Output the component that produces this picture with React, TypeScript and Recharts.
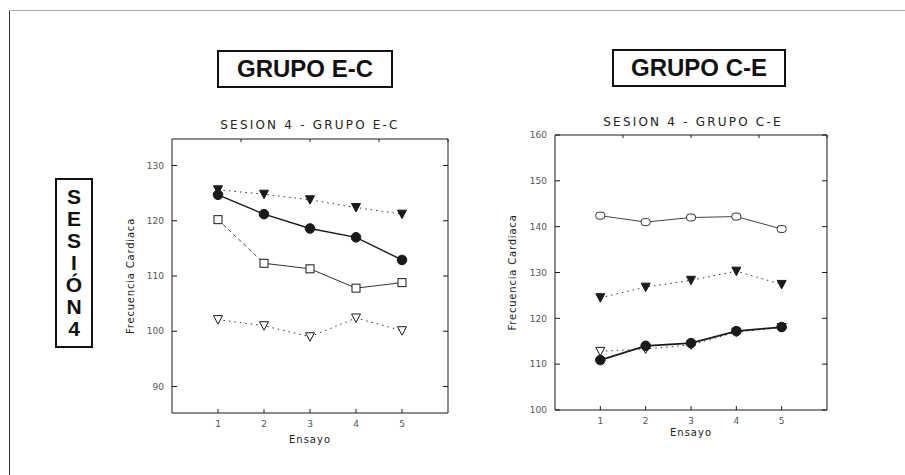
import React from 'react';
import { LineChart, Line, XAxis, YAxis } from 'recharts';

// Sesión 4: frecuencia cardiaca por ensayo
const ensayos = [1, 2, 3, 4, 5];
const ejeX = [1, 2, 3, 4, 5];

// GRUPO E-C
const ecCirculoLleno = [124.7, 121.2, 118.6, 117.0, 112.9];
const ecTrianguloLleno = [125.6, 124.8, 123.8, 122.4, 121.2];
const ecCuadradoVacio = [120.2, 112.3, 111.3, 107.8, 108.8];
const ecTrianguloVacio = [102.1, 101.0, 99.0, 102.4, 100.1];
const ecTicksY = [90, 100, 110, 120, 130];

// GRUPO C-E
const ceCirculoVacio = [142.4, 141.0, 142.0, 142.2, 139.5];
const ceTrianguloLleno = [124.5, 126.8, 128.3, 130.3, 127.4];
const ceCirculoLleno = [110.9, 114.0, 114.6, 117.2, 118.1];
const ceTrianguloVacio = [112.8, 113.3, 114.2, 117.0, 118.0];
const ceTicksY = [100, 110, 120, 130, 140, 150, 160];

const ink = '#1a1a1a';
const tickFont = { fontSize: 9, fill: '#555', fontFamily: 'DejaVu Sans' };

// the open-square series is dashed from trial 1 to 2, solid afterwards
const ecData = ensayos.map((e, i) => ({
  ensayo: e,
  a: ecCirculoLleno[i],
  b: ecTrianguloLleno[i],
  cTramo: i <= 1 ? ecCuadradoVacio[i] : null,
  c: i >= 1 ? ecCuadradoVacio[i] : null,
  cPunto: ecCuadradoVacio[i],
  d: ecTrianguloVacio[i],
}));

const ceData = ensayos.map((e, i) => ({
  ensayo: e,
  a: ceCirculoLleno[i],
  b: ceTrianguloLleno[i],
  c: ceCirculoVacio[i],
  d: ceTrianguloVacio[i],
}));

// marker shapes
function filledCircle(props: any) {
  const { cx, cy, key } = props;
  if (cx == null || cy == null) return <g key={key} />;
  return <circle key={key} cx={cx} cy={cy} r={4.8} fill={ink} stroke={ink} />;
}

function triangle(filled: boolean) {
  return (props: any) => {
    const { cx, cy, key } = props;
    if (cx == null || cy == null) return <g key={key} />;
    const d = `M${cx - 4.5},${cy - 4} L${cx + 4.5},${cy - 4} L${cx},${cy + 4.5} Z`;
    return <path key={key} d={d} fill={filled ? ink : '#fff'} stroke={ink} strokeWidth={1} />;
  };
}

function openSquare(props: any) {
  const { cx, cy, key } = props;
  if (cx == null || cy == null) return <g key={key} />;
  return <rect key={key} x={cx - 4} y={cy - 4} width={8} height={8} fill="#fff" stroke={ink} strokeWidth={1} />;
}

function openRound(props: any) {
  const { cx, cy, key } = props;
  if (cx == null || cy == null) return <g key={key} />;
  return <rect key={key} x={cx - 4.5} y={cy - 3.5} width={9} height={7} rx={3} fill="#fff" stroke="#333" strokeWidth={1} />;
}

interface PanelProps {
  data: any[];
  domain: [number, number];
  ticksY: number[];
  labelOffset: number;
  ensayoOffset: number;
  margin: { top: number; right: number; bottom: number; left: number };
  yWidth: number;
  lines: React.ReactNode;
}

function Panel({ data, domain, ticksY, labelOffset, ensayoOffset, margin, yWidth, lines }: PanelProps) {
  return (
    <LineChart width={400} height={360} data={data} margin={margin}>
      <XAxis
        xAxisId="b"
        dataKey="ensayo"
        type="number"
        domain={[0, 6]}
        ticks={ejeX}
        height={40}
        stroke={ink}
        tickSize={-4}
        tickMargin={12}
        tick={tickFont}
        label={{
          value: 'Ensayo',
          position: 'insideBottom',
          offset: ensayoOffset,
          style: { fontSize: 10, fill: '#222', fontFamily: 'DejaVu Sans', letterSpacing: 1 },
        }}
      />
      <XAxis
        xAxisId="t"
        orientation="top"
        type="number"
        domain={[0, 6]}
        ticks={ejeX}
        height={5}
        stroke={ink}
        tickSize={-3}
        tickFormatter={() => ''}
      />
      <YAxis
        yAxisId="l"
        type="number"
        domain={domain}
        ticks={ticksY}
        allowDataOverflow
        width={yWidth}
        stroke={ink}
        tickSize={-5}
        tickMargin={13}
        tick={tickFont}
        label={{
          value: 'Frecuencia Cardiaca',
          angle: -90,
          position: 'insideLeft',
          offset: labelOffset,
          style: { textAnchor: 'middle', fontSize: 10, fill: '#222', fontFamily: 'DejaVu Sans', letterSpacing: 0.8 },
        }}
      />
      <YAxis
        yAxisId="r"
        orientation="right"
        type="number"
        domain={domain}
        ticks={ticksY}
        allowDataOverflow
        width={10}
        stroke={ink}
        tickSize={-5}
        tickFormatter={() => ''}
      />
      {lines}
    </LineChart>
  );
}

const titleBox: React.CSSProperties = {
  position: 'absolute',
  border: '2px solid #111',
  fontFamily: '"Liberation Sans", Arial, sans-serif',
  fontWeight: 700,
  fontSize: 24,
  color: '#111',
  display: 'flex',
  alignItems: 'center',
  justifyContent: 'center',
  boxSizing: 'border-box',
};

const chartTitle: React.CSSProperties = {
  position: 'absolute',
  width: 300,
  textAlign: 'center',
  fontFamily: 'DejaVu Sans',
  fontSize: 12,
  letterSpacing: 2.2,
  color: '#222',
};

export default function App() {
  const sesion = ['S', 'E', 'S', 'I', 'Ó', 'N', '4'];
  return (
    <div style={{ position: 'fixed', left: 0, top: 0, width: 905, height: 475, background: '#fff', overflow: 'hidden' }}>
      {/* page frame */}
      <div style={{ position: 'absolute', left: 9, top: 10, width: 1, height: 465, background: '#333' }} />
      <div style={{ position: 'absolute', left: 9, top: 10, width: 896, height: 1, background: '#aaa' }} />

      <div style={{ ...titleBox, left: 217, top: 50, width: 176, height: 38 }}>GRUPO E-C</div>
      <div style={{ ...titleBox, left: 612, top: 49, width: 174, height: 38 }}>GRUPO C-E</div>

      <div
        style={{
          ...titleBox,
          left: 55,
          top: 178,
          width: 38,
          height: 170,
          flexDirection: 'column',
          fontSize: 21,
          lineHeight: '22px',
        }}
      >
        {sesion.map((c, i) => (
          <span key={i}>{c}</span>
        ))}
      </div>

      <div style={{ ...chartTitle, left: 160, top: 118 }}>SESION 4 - GRUPO E-C</div>
      <div style={{ ...chartTitle, left: 543, top: 115 }}>SESION 4 - GRUPO C-E</div>

      <div style={{ position: 'absolute', left: 100, top: 100 }}>
        <Panel
          data={ecData}
          domain={[85.2, 134.8]}
          ticksY={ecTicksY}
          yWidth={50}
          labelOffset={8}
          ensayoOffset={10}
          margin={{ top: 34, right: 42, bottom: 7, left: 22 }}
          lines={[
            <Line key="d" xAxisId="b" yAxisId="l" dataKey="d" stroke="#333" strokeWidth={1} strokeDasharray="1.5 4" dot={triangle(false)} isAnimationActive={false} />,
            <Line key="ct" xAxisId="b" yAxisId="l" dataKey="cTramo" stroke="#444" strokeWidth={1} strokeDasharray="4 3" dot={false} isAnimationActive={false} />,
            <Line key="c" xAxisId="b" yAxisId="l" dataKey="c" stroke="#333" strokeWidth={1} dot={false} isAnimationActive={false} />,
            <Line key="cp" xAxisId="b" yAxisId="l" dataKey="cPunto" stroke="none" dot={openSquare} isAnimationActive={false} />,
            <Line key="b" xAxisId="b" yAxisId="l" dataKey="b" stroke="#333" strokeWidth={1} strokeDasharray="1.5 4" dot={triangle(true)} isAnimationActive={false} />,
            <Line key="a" xAxisId="b" yAxisId="l" dataKey="a" stroke={ink} strokeWidth={1.4} dot={filledCircle} isAnimationActive={false} />,
          ]}
        />
      </div>

      <div style={{ position: 'absolute', left: 470, top: 100 }}>
        <Panel
          data={ceData}
          domain={[100, 160]}
          ticksY={ceTicksY}
          yWidth={55}
          labelOffset={12}
          ensayoOffset={14}
          margin={{ top: 30, right: 33, bottom: 10, left: 30 }}
          lines={[
            <Line key="d" xAxisId="b" yAxisId="l" dataKey="d" stroke="#333" strokeWidth={1} strokeDasharray="1.5 4" dot={triangle(false)} isAnimationActive={false} />,
            <Line key="c" xAxisId="b" yAxisId="l" dataKey="c" stroke="#444" strokeWidth={1} dot={openRound} isAnimationActive={false} />,
            <Line key="b" xAxisId="b" yAxisId="l" dataKey="b" stroke="#333" strokeWidth={1} strokeDasharray="1.5 4" dot={triangle(true)} isAnimationActive={false} />,
            <Line key="a" xAxisId="b" yAxisId="l" dataKey="a" stroke={ink} strokeWidth={1.8} dot={filledCircle} isAnimationActive={false} />,
          ]}
        />
      </div>
    </div>
  );
}
